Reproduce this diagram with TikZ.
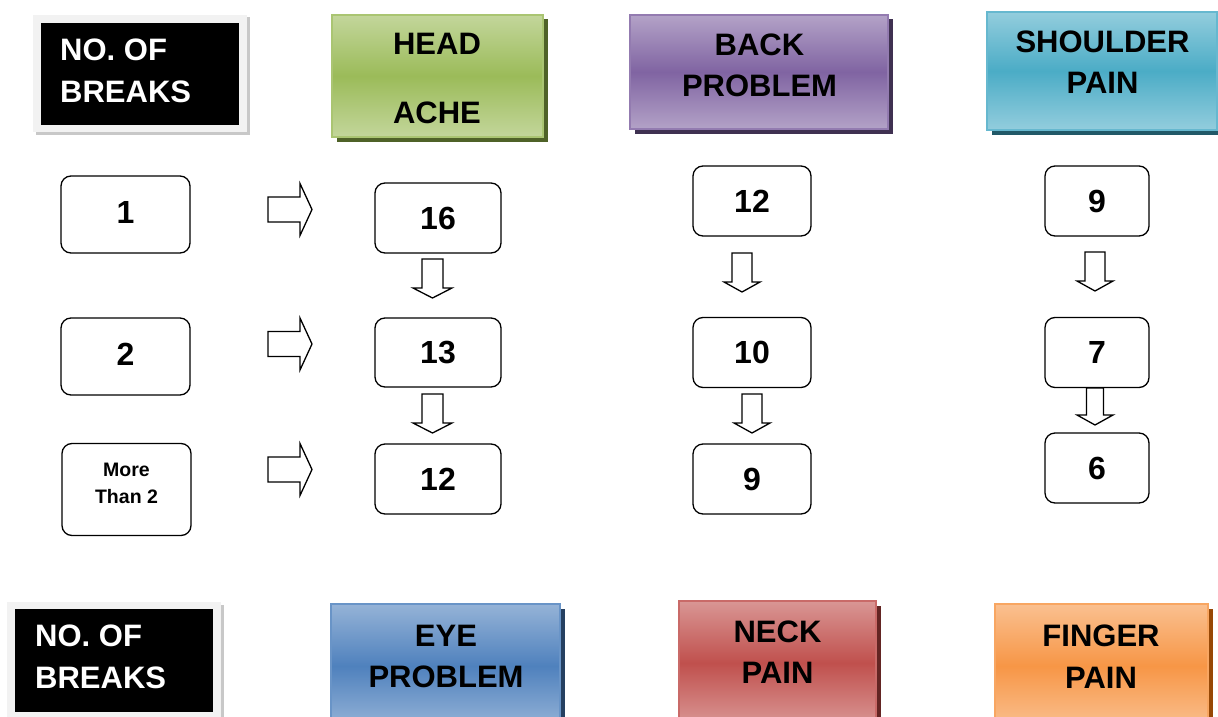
\documentclass[tikz,border=0pt]{standalone}
\usepackage{fontspec}
\setmainfont{Liberation Sans}
\usetikzlibrary{shadows}

% header colours: light band, dark band, shadow
\definecolor{grnL}{HTML}{C3D69B}\definecolor{grnM}{HTML}{9BBB59}\definecolor{grnS}{HTML}{4F6228}
\definecolor{purL}{HTML}{B3A2C7}\definecolor{purM}{HTML}{8064A2}\definecolor{purS}{HTML}{3F3151}
\definecolor{aquL}{HTML}{93CDDD}\definecolor{aquM}{HTML}{4BACC6}\definecolor{aquS}{HTML}{215968}
\definecolor{bluL}{HTML}{95B3D7}\definecolor{bluM}{HTML}{4F81BD}\definecolor{bluS}{HTML}{254061}
\definecolor{redL}{HTML}{D99694}\definecolor{redM}{HTML}{C0504D}\definecolor{redS}{HTML}{632523}
\definecolor{orgL}{HTML}{FAC090}\definecolor{orgM}{HTML}{F79646}\definecolor{orgS}{HTML}{974806}
\definecolor{frameG}{HTML}{F2F2F2}\definecolor{frameS}{HTML}{C8C8C8}

\tikzset{
  hdr/.style n args={3}{draw=#2!85!white, line width=1.6pt, rectangle,
    top color=#1, bottom color=#1, middle color=#2,
    drop shadow={fill=#3, opacity=1, shadow xshift=4.5pt, shadow yshift=-4.5pt}},
  hdrtext/.style={font=\fontsize{31}{41.5}\selectfont\bfseries, align=center, inner sep=0pt},
  frame/.style={rectangle, fill=frameG,
    drop shadow={fill=frameS, opacity=1, shadow xshift=2.5pt, shadow yshift=-2.5pt}},
  blackbox/.style={rectangle, fill=black},
  whitetext/.style={font=\fontsize{31}{41.5}\selectfont\bfseries, text=white, align=left, inner sep=0pt, anchor=west},
  numbox/.style n args={2}{draw, line width=1.3pt, rounded corners=10pt, fill=white,
    minimum width=#1, minimum height=#2, inner sep=0pt,
    font=\fontsize{32}{38}\selectfont\bfseries},
  raised/.style={text height=23pt, text depth=6pt},
  smallnum/.style={font=\fontsize{19.5}{27}\selectfont\bfseries, align=center},
  blockarrow/.style={draw, line width=1.3pt, fill=white, line join=miter},
  pics/dnarrow/.style n args={3}{code={
    \draw[blockarrow] (-#2,0) -- (#2,0) -- (#2,#1-10) -- (#3,#1-10) -- (0,#1)
      -- (-#3,#1-10) -- (-#2,#1-10) -- cycle;}},
  pics/rtarrow/.style={code={
    \draw[blockarrow] (0,-12.5) -- (32,-12.5) -- (32,-26) -- (44,0) -- (32,26)
      -- (32,12.5) -- (0,12.5) -- cycle;}},
}

\begin{document}
\begin{tikzpicture}[x=1pt, y=-1pt]
\path[use as bounding box] (0,0) rectangle (1218,717);
\clip (0,0) rectangle (1218,717);

% ---- top row of headers ----
\node[frame, minimum width=214, minimum height=117] (frameA) at (140,73.5) {};
\node[blackbox, minimum width=198, minimum height=102] (breaksA) at (140,74) {};
\node[whitetext] (breaksAtxt) at (60,71) {NO. OF\\BREAKS};

\node[hdr={grnL}{grnM}{grnS}, minimum width=211, minimum height=122] (head) at (437.5,76) {};
\node[hdrtext] (headtxt) at (437,78) {HEAD\\[27.5pt]ACHE};

\node[hdr={purL}{purM}{purS}, minimum width=258, minimum height=114] (back) at (759,72) {};
\node[hdrtext] (backtxt) at (759.5,65.5) {BACK\\PROBLEM};

\node[hdr={aquL}{aquM}{aquS}, minimum width=230, minimum height=118] (shoulder) at (1102,71) {};
\node[hdrtext] (shouldertxt) at (1102.5,62) {SHOULDER\\PAIN};

% ---- number of breaks ----
\node[numbox={129}{77}, raised] (b1) at (125.5,214.5) {1};
\node[numbox={129}{77}, raised] (b2) at (125.5,356.5) {2};
\node[numbox={129}{92}] (b3) at (126.5,489.5) {};
\node[smallnum, inner sep=0pt] (b3txt) at (126.5,483.5) {More\\Than 2};

\pic at (268,209.5) {rtarrow};
\pic at (268,344) {rtarrow};
\pic at (268,469.5) {rtarrow};

% ---- head ache column ----
\node[numbox={126}{70}] (h16) at (438,218) {16};
\node[numbox={126}{69}] (h13) at (438,352.5) {13};
\node[numbox={126}{70}] (h12) at (438,479) {12};
\pic at (432.5,259) {dnarrow={39}{10.5}{19.5}};
\pic at (432.5,394) {dnarrow={39}{10.5}{19.5}};

% ---- back problem column ----
\node[numbox={118}{70}] (k12) at (752,201) {12};
\node[numbox={118}{70}] (k10) at (752,352.5) {10};
\node[numbox={118}{70}] (k9) at (752,479) {9};
\pic at (742,253) {dnarrow={39}{10}{18}};
\pic at (752,394) {dnarrow={39}{10}{18}};

% ---- shoulder pain column ----
\node[numbox={104}{70}] (s9) at (1097,201) {9};
\node[numbox={104}{70}] (s7) at (1097,352.5) {7};
\node[numbox={104}{70}] (s6) at (1097,468) {6};
\pic at (1095,252) {dnarrow={39}{10}{18}};
\pic at (1095,388) {dnarrow={37}{8.5}{18}};

% ---- bottom row of headers ----
\node[frame, minimum width=214, minimum height=120] (frameB) at (114,662) {};
\node[blackbox, minimum width=198, minimum height=103] (breaksB) at (114,660.5) {};
\node[whitetext] (breaksBtxt) at (35,657) {NO. OF\\BREAKS};

\node[hdr={bluL}{bluM}{bluS}, minimum width=229, minimum height=124] (eye) at (445.5,666) {};
\node[hdrtext] (eyetxt) at (446,656.5) {EYE\\PROBLEM};

\node[hdr={redL}{redM}{redS}, minimum width=197, minimum height=124] (neck) at (777.5,663) {};
\node[hdrtext] (necktxt) at (777.5,652) {NECK\\PAIN};

\node[hdr={orgL}{orgM}{orgS}, minimum width=213, minimum height=124] (finger) at (1101.5,666) {};
\node[hdrtext] (fingertxt) at (1101,656.5) {FINGER\\PAIN};
\end{tikzpicture}
\end{document}
